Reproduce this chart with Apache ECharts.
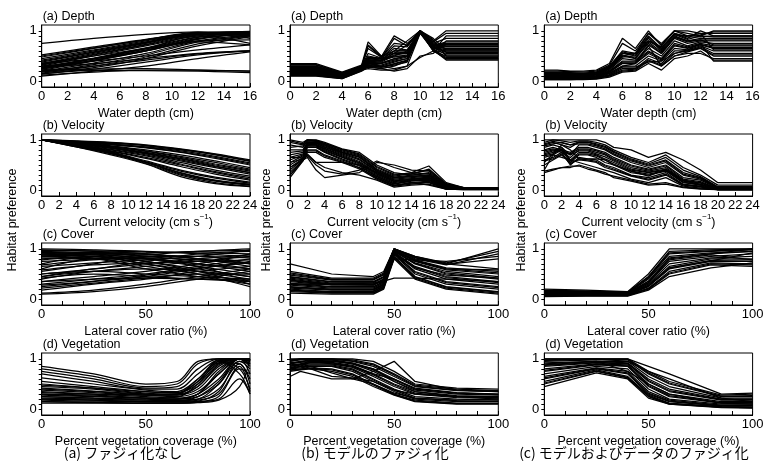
<!DOCTYPE html>
<html>
<head>
<meta charset="utf-8">
<script src="https://cdn.jsdelivr.net/npm/echarts@6/dist/echarts.min.js"></script>
<style>
  html, body { margin: 0; padding: 0; background: #fff; }
  #main { width: 776px; height: 470px; }
</style>
</head>
<body>
<div id="main"></div>
<script>
// ---- labels ----
var rowTitles = ['(a) Depth', '(b) Velocity', '(c) Cover', '(d) Vegetation'];
var axisNames = ['Water depth (cm)', 'Current velocity (cm s{sup|\u22121})', 'Lateral cover ratio (%)', 'Percent vegetation coverage (%)'];
var captions = ['(a) ファジィ化なし', '(b) モデルのファジィ化', '(c) モデルおよびデータのファジィ化'];
var yName = 'Habitat preference';

// ---- tick labels / tick marks ----
var depthTicks = [0, 2, 4, 6, 8, 10, 12, 14, 16];
var depthMarks = [0, 1, 2, 3, 4, 5, 6, 7, 8, 9, 10, 11, 12, 13, 14, 15, 16];
var velocityTicks = [0, 2, 4, 6, 8, 10, 12, 14, 16, 18, 20, 22, 24];
var percentTicks = [0, 50, 100];
var percentMarks = [0, 10, 20, 30, 40, 50, 60, 70, 80, 90, 100];
var prefTicks = [0, 1];
var prefMarks = [0, 0.1, 0.2, 0.3, 0.4, 0.5, 0.6, 0.7, 0.8, 0.9, 1];

// ---- (a) no fuzzification ----
var depthNoneX = [0, 4, 8, 12, 16];
var depthNone = [
  [0.75, 0.85, 0.93, 0.98, 0.95], [0.52, 0.68, 0.83, 0.96, 0.98], [0.48, 0.65, 0.82, 0.97, 0.93],
  [0.42, 0.6, 0.78, 0.95, 0.97], [0.38, 0.57, 0.76, 0.93, 0.96], [0.35, 0.55, 0.75, 0.94, 0.9],
  [0.32, 0.52, 0.72, 0.92, 0.96], [0.3, 0.5, 0.7, 0.9, 0.95], [0.28, 0.46, 0.66, 0.88, 0.97],
  [0.27, 0.45, 0.65, 0.9, 0.75], [0.25, 0.42, 0.62, 0.85, 0.93], [0.22, 0.4, 0.6, 0.84, 0.95],
  [0.2, 0.36, 0.55, 0.8, 0.92], [0.18, 0.33, 0.52, 0.78, 0.9], [0.3, 0.4, 0.5, 0.62, 0.72],
  [0.28, 0.35, 0.45, 0.55, 0.6], [0.2, 0.3, 0.42, 0.54, 0.6], [0.15, 0.24, 0.38, 0.52, 0.6],
  [0.1, 0.2, 0.3, 0.45, 0.58], [0.22, 0.24, 0.25, 0.22, 0.2], [0.2, 0.21, 0.21, 0.2, 0.17],
  [0.12, 0.18, 0.22, 0.22, 0.2], [0.35, 0.45, 0.6, 0.78, 0.72], [0.45, 0.62, 0.8, 0.95, 0.98],
  [0.4, 0.58, 0.77, 0.94, 0.99], [0.33, 0.53, 0.73, 0.93, 0.94], [0.26, 0.44, 0.64, 0.87, 0.96],
  [0.24, 0.41, 0.6, 0.83, 0.98], [0.16, 0.3, 0.48, 0.74, 0.9], [0.14, 0.27, 0.45, 0.7, 0.88],
  [0.5, 0.66, 0.82, 0.95, 0.85], [0.36, 0.5, 0.65, 0.8, 0.82]
];
var velNoneX = [0, 4, 8, 12, 16, 20, 24];
var velNone = [
  [1, 0.98, 0.95, 0.9, 0.82, 0.72, 0.6], [1, 0.97, 0.93, 0.88, 0.8, 0.7, 0.57],
  [1, 0.96, 0.92, 0.86, 0.78, 0.67, 0.54], [1, 0.95, 0.9, 0.84, 0.75, 0.63, 0.5],
  [1, 0.95, 0.88, 0.8, 0.7, 0.58, 0.45], [1, 0.94, 0.87, 0.78, 0.67, 0.55, 0.42],
  [1, 0.93, 0.85, 0.75, 0.63, 0.5, 0.38], [1, 0.92, 0.83, 0.72, 0.58, 0.45, 0.32],
  [1, 0.91, 0.81, 0.7, 0.55, 0.4, 0.28], [1, 0.9, 0.8, 0.68, 0.52, 0.37, 0.25],
  [1, 0.89, 0.78, 0.65, 0.5, 0.35, 0.22], [1, 0.9, 0.77, 0.63, 0.47, 0.32, 0.2],
  [1, 0.88, 0.75, 0.55, 0.35, 0.2, 0.12], [1, 0.87, 0.73, 0.55, 0.32, 0.18, 0.1],
  [1, 0.86, 0.72, 0.53, 0.3, 0.15, 0.08], [1, 0.86, 0.7, 0.52, 0.27, 0.13, 0.07],
  [1, 0.88, 0.74, 0.56, 0.38, 0.24, 0.14], [1, 0.93, 0.84, 0.74, 0.62, 0.48, 0.35],
  [1, 0.97, 0.94, 0.89, 0.81, 0.71, 0.58], [1, 0.96, 0.91, 0.85, 0.76, 0.65, 0.52],
  [1, 0.94, 0.86, 0.77, 0.65, 0.52, 0.4], [1, 0.92, 0.84, 0.73, 0.6, 0.47, 0.35],
  [1, 0.87, 0.74, 0.56, 0.34, 0.19, 0.11], [1, 0.89, 0.76, 0.58, 0.4, 0.26, 0.16]
];
var coverNoneX = [0, 25, 50, 75, 100];
var coverNone = [
  [1.0, 0.98, 0.95, 0.9, 0.85], [0.98, 0.95, 0.9, 0.8, 0.7], [0.95, 0.92, 0.85, 0.75, 0.6],
  [0.93, 0.9, 0.8, 0.65, 0.5], [0.9, 0.88, 0.75, 0.6, 0.45], [0.88, 0.85, 0.7, 0.55, 0.4],
  [0.85, 0.82, 0.65, 0.5, 0.35], [0.82, 0.8, 0.6, 0.45, 0.3], [0.8, 0.85, 0.7, 0.5, 0.25],
  [0.7, 0.85, 0.75, 0.55, 0.3], [0.6, 0.8, 0.8, 0.65, 0.35], [0.55, 0.7, 0.85, 0.85, 0.7],
  [0.5, 0.6, 0.75, 0.9, 0.95], [0.45, 0.55, 0.6, 0.55, 0.45], [0.42, 0.5, 0.45, 0.4, 0.35],
  [0.4, 0.55, 0.65, 0.75, 0.85], [0.35, 0.45, 0.55, 0.7, 0.9], [0.3, 0.4, 0.5, 0.65, 0.8],
  [0.25, 0.35, 0.45, 0.6, 0.75], [0.18, 0.3, 0.4, 0.55, 0.65], [0.12, 0.18, 0.3, 0.45, 0.6],
  [0.1, 0.15, 0.25, 0.4, 0.55], [0.65, 0.72, 0.78, 0.85, 0.98], [0.75, 0.8, 0.88, 0.95, 1.0],
  [0.88, 0.9, 0.92, 0.95, 0.97], [0.45, 0.6, 0.7, 0.8, 0.88],
  [0.97, 0.96, 0.94, 0.92, 0.9], [0.92, 0.9, 0.88, 0.85, 0.82], [0.9, 0.93, 0.9, 0.8, 0.65],
  [0.86, 0.88, 0.82, 0.7, 0.55], [0.78, 0.84, 0.8, 0.7, 0.6], [0.68, 0.78, 0.82, 0.78, 0.72],
  [0.58, 0.68, 0.72, 0.75, 0.78], [0.5, 0.55, 0.5, 0.45, 0.4], [0.35, 0.4, 0.42, 0.4, 0.38],
  [0.28, 0.36, 0.48, 0.62, 0.72], [0.22, 0.32, 0.42, 0.5, 0.5]
];
var vegNoneX = [0, 25, 50, 65, 75, 85, 95, 100];
var vegNone = [
  [0.85, 0.7, 0.5, 0.55, 0.95, 1.0, 1.0, 0.95], [0.8, 0.65, 0.45, 0.5, 0.9, 1.0, 1.0, 1.0],
  [0.75, 0.6, 0.42, 0.45, 0.8, 1.0, 1.0, 0.9], [0.7, 0.55, 0.4, 0.4, 0.7, 0.98, 1.0, 1.0],
  [0.62, 0.5, 0.38, 0.35, 0.6, 0.95, 1.0, 1.0], [0.55, 0.45, 0.35, 0.32, 0.5, 0.9, 1.0, 1.0],
  [0.5, 0.42, 0.32, 0.3, 0.45, 0.85, 1.0, 0.95], [0.45, 0.4, 0.3, 0.28, 0.4, 0.8, 1.0, 0.9],
  [0.4, 0.35, 0.28, 0.25, 0.35, 0.7, 1.0, 1.0], [0.35, 0.3, 0.25, 0.22, 0.3, 0.6, 1.0, 1.0],
  [0.3, 0.28, 0.22, 0.2, 0.25, 0.5, 0.95, 0.8], [0.25, 0.22, 0.2, 0.18, 0.2, 0.4, 0.9, 0.6],
  [0.2, 0.18, 0.15, 0.15, 0.18, 0.3, 0.85, 0.35], [0.15, 0.14, 0.12, 0.12, 0.15, 0.2, 0.6, 0.3],
  [0.12, 0.12, 0.12, 0.12, 0.13, 0.18, 0.45, 1.0], [0.33, 0.3, 0.28, 0.3, 0.6, 0.95, 0.7, 0.3],
  [0.28, 0.25, 0.22, 0.24, 0.5, 0.92, 0.9, 0.5], [0.22, 0.2, 0.18, 0.2, 0.3, 0.7, 1.0, 0.7],
  [0.18, 0.16, 0.15, 0.16, 0.25, 0.55, 1.0, 0.85], [0.38, 0.33, 0.28, 0.3, 0.55, 0.97, 0.8, 0.4],
  [0.48, 0.42, 0.35, 0.33, 0.55, 0.92, 1.0, 0.98], [0.42, 0.36, 0.3, 0.28, 0.45, 0.88, 1.0, 1.0],
  [0.3, 0.26, 0.22, 0.2, 0.3, 0.75, 1.0, 0.95], [0.25, 0.22, 0.18, 0.17, 0.2, 0.5, 1.0, 1.0],
  [0.2, 0.18, 0.15, 0.14, 0.16, 0.35, 0.95, 0.9], [0.15, 0.13, 0.12, 0.12, 0.14, 0.25, 0.8, 0.7]
];

// ---- (b) model fuzzification ----
var depthModelX = [0, 2, 4, 5.5, 6, 7, 8, 9, 10, 11, 12, 16];
var depthModel = [
  [0.35, 0.35, 0.18, 0.32, 0.78, 0.5, 0.6, 0.8, 1.0, 0.8, 1.0, 1.0],
  [0.3, 0.3, 0.15, 0.3, 0.7, 0.48, 0.9, 0.75, 0.98, 0.78, 0.95, 0.95],
  [0.28, 0.28, 0.14, 0.3, 0.5, 0.45, 0.85, 0.7, 1.0, 0.75, 0.85, 0.85],
  [0.25, 0.25, 0.12, 0.28, 0.45, 0.42, 0.6, 0.6, 1.0, 0.7, 0.78, 0.78],
  [0.22, 0.22, 0.1, 0.27, 0.42, 0.4, 0.55, 0.55, 0.98, 0.72, 0.7, 0.7],
  [0.2, 0.2, 0.1, 0.26, 0.4, 0.38, 0.5, 0.5, 1.0, 0.68, 0.65, 0.65],
  [0.18, 0.18, 0.08, 0.25, 0.38, 0.36, 0.45, 0.5, 0.97, 0.65, 0.6, 0.6],
  [0.15, 0.15, 0.07, 0.24, 0.35, 0.32, 0.4, 0.45, 0.99, 0.62, 0.55, 0.55],
  [0.12, 0.12, 0.06, 0.22, 0.32, 0.28, 0.35, 0.42, 1.0, 0.6, 0.5, 0.5],
  [0.1, 0.1, 0.05, 0.2, 0.28, 0.25, 0.3, 0.4, 0.97, 0.6, 0.45, 0.45],
  [0.14, 0.14, 0.08, 0.22, 0.25, 0.22, 0.22, 0.3, 0.95, 0.62, 0.42, 0.42],
  [0.2, 0.2, 0.1, 0.24, 0.3, 0.25, 0.2, 0.25, 0.5, 0.55, 0.8, 0.8],
  [0.25, 0.25, 0.12, 0.26, 0.35, 0.3, 0.25, 0.3, 0.47, 0.6, 0.9, 0.9],
  [0.32, 0.32, 0.16, 0.28, 0.72, 0.5, 0.55, 0.72, 1.0, 0.85, 0.62, 0.62],
  [0.17, 0.17, 0.09, 0.25, 0.45, 0.45, 0.5, 0.6, 1.0, 0.7, 0.72, 0.72],
  [0.13, 0.13, 0.07, 0.23, 0.33, 0.3, 0.38, 0.45, 0.98, 0.66, 0.58, 0.58],
  [0.24, 0.24, 0.11, 0.27, 0.4, 0.42, 0.48, 0.52, 1.0, 0.7, 0.68, 0.68],
  [0.11, 0.11, 0.05, 0.21, 0.3, 0.28, 0.32, 0.38, 0.96, 0.64, 0.47, 0.47],
  [0.19, 0.19, 0.09, 0.25, 0.36, 0.35, 0.42, 0.48, 1.0, 0.68, 0.52, 0.52],
  [0.27, 0.27, 0.13, 0.28, 0.48, 0.46, 0.65, 0.62, 0.99, 0.72, 0.75, 0.75],
  [0.16, 0.16, 0.08, 0.24, 0.37, 0.36, 0.44, 0.5, 0.99, 0.67, 0.62, 0.62],
  [0.21, 0.21, 0.1, 0.26, 0.41, 0.4, 0.52, 0.55, 1.0, 0.7, 0.57, 0.57],
  [0.23, 0.23, 0.11, 0.27, 0.43, 0.41, 0.56, 0.57, 0.99, 0.71, 0.73, 0.73],
  [0.26, 0.26, 0.12, 0.28, 0.46, 0.44, 0.6, 0.6, 1.0, 0.72, 0.64, 0.64],
  [0.12, 0.12, 0.06, 0.22, 0.31, 0.28, 0.34, 0.41, 0.98, 0.62, 0.44, 0.44],
  [0.29, 0.29, 0.14, 0.29, 0.55, 0.46, 0.7, 0.68, 1.0, 0.76, 0.69, 0.69],
  [0.33, 0.33, 0.17, 0.3, 0.65, 0.48, 0.75, 0.72, 1.0, 0.82, 0.5, 0.5]
];
var velModelX = [0, 1.5, 2, 3, 4, 6, 8, 10, 12, 14, 16, 18, 20, 24];
var velModel = [
  [1.0, 0.95, 1.0, 1.0, 0.95, 0.82, 0.75, 0.5, 0.35, 0.3, 0.35, 0.12, 0.05, 0.05],
  [0.95, 0.9, 1.0, 0.98, 0.92, 0.8, 0.7, 0.45, 0.3, 0.35, 0.48, 0.15, 0.05, 0.05],
  [0.9, 0.85, 0.98, 0.97, 0.9, 0.78, 0.68, 0.42, 0.28, 0.33, 0.4, 0.12, 0.04, 0.04],
  [0.8, 0.8, 0.95, 0.95, 0.88, 0.75, 0.65, 0.4, 0.25, 0.28, 0.3, 0.1, 0.04, 0.04],
  [0.7, 0.75, 0.92, 0.93, 0.85, 0.72, 0.6, 0.37, 0.22, 0.25, 0.28, 0.08, 0.03, 0.03],
  [0.6, 0.7, 0.9, 0.9, 0.82, 0.68, 0.55, 0.33, 0.18, 0.22, 0.25, 0.06, 0.03, 0.03],
  [0.5, 0.65, 0.88, 0.88, 0.78, 0.65, 0.52, 0.3, 0.15, 0.2, 0.22, 0.05, 0.02, 0.02],
  [0.4, 0.62, 0.85, 0.85, 0.75, 0.6, 0.48, 0.27, 0.12, 0.18, 0.2, 0.04, 0.02, 0.02],
  [0.3, 0.6, 0.8, 0.8, 0.7, 0.58, 0.45, 0.25, 0.1, 0.15, 0.18, 0.03, 0.02, 0.02],
  [0.25, 0.58, 0.75, 0.75, 0.65, 0.55, 0.42, 0.22, 0.08, 0.12, 0.15, 0.02, 0.02, 0.02],
  [0.35, 0.6, 0.7, 0.55, 0.45, 0.35, 0.3, 0.2, 0.06, 0.1, 0.12, 0.02, 0.01, 0.01],
  [0.45, 0.6, 0.65, 0.4, 0.25, 0.3, 0.35, 0.55, 0.5, 0.4, 0.38, 0.1, 0.02, 0.02],
  [0.55, 0.62, 0.68, 0.5, 0.38, 0.32, 0.4, 0.58, 0.45, 0.35, 0.32, 0.08, 0.02, 0.02],
  [0.65, 0.64, 0.72, 0.55, 0.55, 0.55, 0.5, 0.35, 0.2, 0.15, 0.1, 0.02, 0.01, 0.01],
  [0.85, 0.88, 0.96, 0.96, 0.9, 0.76, 0.66, 0.4, 0.26, 0.3, 0.33, 0.11, 0.04, 0.04],
  [0.75, 0.78, 0.93, 0.94, 0.86, 0.74, 0.62, 0.38, 0.24, 0.27, 0.29, 0.09, 0.03, 0.03],
  [0.55, 0.68, 0.89, 0.9, 0.8, 0.66, 0.54, 0.32, 0.17, 0.21, 0.24, 0.06, 0.03, 0.03],
  [0.98, 0.92, 1.0, 0.99, 0.93, 0.81, 0.72, 0.47, 0.32, 0.32, 0.42, 0.13, 0.05, 0.05],
  [0.65, 0.72, 0.91, 0.91, 0.83, 0.7, 0.57, 0.35, 0.2, 0.23, 0.26, 0.07, 0.03, 0.03],
  [0.45, 0.63, 0.86, 0.86, 0.76, 0.62, 0.5, 0.28, 0.13, 0.19, 0.21, 0.04, 0.02, 0.02],
  [0.3, 0.59, 0.78, 0.78, 0.68, 0.56, 0.44, 0.24, 0.09, 0.14, 0.16, 0.03, 0.02, 0.02]
];
var coverModelX = [0, 20, 40, 45, 50, 60, 75, 100];
var coverModel = [
  [0.7, 0.5, 0.45, 0.55, 1.0, 0.85, 0.7, 0.6], [0.55, 0.42, 0.42, 0.52, 1.0, 0.85, 0.72, 0.95],
  [0.52, 0.4, 0.4, 0.5, 1.0, 0.82, 0.7, 1.0], [0.48, 0.38, 0.38, 0.48, 1.0, 0.8, 0.68, 0.9],
  [0.45, 0.35, 0.35, 0.45, 0.98, 0.78, 0.62, 0.55], [0.42, 0.32, 0.33, 0.43, 0.97, 0.75, 0.58, 0.5],
  [0.4, 0.3, 0.3, 0.4, 0.95, 0.72, 0.55, 0.45], [0.35, 0.28, 0.28, 0.38, 0.95, 0.7, 0.5, 0.4],
  [0.32, 0.25, 0.25, 0.35, 0.93, 0.65, 0.45, 0.35], [0.28, 0.22, 0.22, 0.32, 0.92, 0.6, 0.4, 0.3],
  [0.25, 0.2, 0.2, 0.3, 0.9, 0.55, 0.35, 0.25], [0.22, 0.18, 0.18, 0.28, 0.88, 0.5, 0.3, 0.2],
  [0.2, 0.15, 0.15, 0.25, 0.85, 0.45, 0.25, 0.15], [0.15, 0.12, 0.12, 0.22, 0.82, 0.42, 0.22, 0.12],
  [0.12, 0.1, 0.1, 0.2, 0.8, 0.4, 0.2, 0.1], [0.3, 0.3, 0.3, 0.35, 0.8, 0.78, 0.75, 0.85],
  [0.3, 0.3, 0.32, 0.36, 0.42, 0.42, 0.4, 0.35], [0.38, 0.3, 0.28, 0.4, 0.96, 0.76, 0.6, 0.58],
  [0.18, 0.14, 0.16, 0.26, 0.9, 0.62, 0.48, 0.42],
  [0.44, 0.34, 0.34, 0.44, 0.98, 0.77, 0.6, 0.52], [0.37, 0.29, 0.29, 0.39, 0.95, 0.71, 0.52, 0.42],
  [0.3, 0.24, 0.24, 0.34, 0.93, 0.63, 0.43, 0.33], [0.24, 0.19, 0.19, 0.29, 0.9, 0.53, 0.33, 0.23],
  [0.17, 0.13, 0.13, 0.23, 0.84, 0.44, 0.24, 0.14], [0.5, 0.39, 0.39, 0.49, 1.0, 0.83, 0.69, 0.8]
];
var vegModelX = [0, 5, 10, 20, 30, 40, 50, 60, 80, 100];
var vegModel = [
  [1.0, 1.0, 1.0, 1.0, 1.0, 0.95, 0.75, 0.5, 0.42, 0.4],
  [0.98, 1.0, 1.0, 1.0, 0.98, 0.9, 0.7, 0.48, 0.4, 0.37],
  [0.95, 0.98, 1.0, 1.0, 0.95, 0.85, 0.65, 0.45, 0.37, 0.35],
  [0.92, 0.95, 0.98, 0.98, 0.92, 0.8, 0.6, 0.42, 0.33, 0.3],
  [0.9, 0.93, 0.95, 0.95, 0.9, 0.75, 0.55, 0.38, 0.3, 0.28],
  [0.88, 0.9, 0.93, 0.93, 0.87, 0.7, 0.5, 0.35, 0.27, 0.25],
  [0.85, 0.88, 0.9, 0.9, 0.83, 0.65, 0.45, 0.3, 0.23, 0.22],
  [0.82, 0.85, 0.88, 0.88, 0.8, 0.6, 0.4, 0.25, 0.2, 0.18],
  [0.8, 0.82, 0.85, 0.85, 0.75, 0.55, 0.35, 0.2, 0.15, 0.15],
  [0.78, 0.8, 0.82, 0.8, 0.7, 0.5, 0.3, 0.18, 0.12, 0.12],
  [0.75, 0.78, 0.8, 0.75, 0.65, 0.45, 0.28, 0.15, 0.1, 0.1],
  [0.65, 0.75, 0.7, 0.6, 0.6, 0.75, 0.95, 0.55, 0.38, 0.35],
  [0.82, 0.88, 0.8, 0.65, 0.62, 0.55, 0.38, 0.3, 0.25, 0.25],
  [0.8, 0.85, 0.85, 0.72, 0.6, 0.5, 0.32, 0.22, 0.18, 0.2],
  [0.85, 0.9, 0.95, 0.9, 0.85, 0.7, 0.6, 0.4, 0.32, 0.3],
  [0.95, 1.0, 1.0, 0.98, 0.9, 0.8, 0.55, 0.35, 0.25, 0.2],
  [0.97, 0.99, 1.0, 0.99, 0.96, 0.88, 0.68, 0.46, 0.38, 0.36],
  [0.91, 0.94, 0.97, 0.96, 0.91, 0.78, 0.58, 0.4, 0.32, 0.29],
  [0.87, 0.89, 0.92, 0.92, 0.85, 0.68, 0.48, 0.32, 0.25, 0.23],
  [0.81, 0.84, 0.86, 0.86, 0.78, 0.58, 0.38, 0.22, 0.17, 0.16],
  [0.77, 0.79, 0.81, 0.78, 0.68, 0.48, 0.29, 0.16, 0.11, 0.11]
];

// ---- (c) model + data fuzzification ----
var depthDataX = [0, 1, 2, 3, 4, 5, 6, 7, 8, 9, 10, 11, 12, 13, 16];
var depthData = [
  [0.22, 0.22, 0.2, 0.2, 0.22, 0.35, 0.85, 0.65, 1.0, 0.7, 1.0, 0.95, 0.9, 1.0, 1.0],
  [0.2, 0.2, 0.19, 0.18, 0.2, 0.32, 0.75, 0.6, 0.95, 0.75, 1.0, 1.0, 0.95, 0.95, 0.95],
  [0.18, 0.18, 0.17, 0.16, 0.18, 0.3, 0.6, 0.55, 0.9, 0.65, 0.95, 0.85, 1.0, 0.9, 0.9],
  [0.15, 0.15, 0.14, 0.14, 0.16, 0.28, 0.55, 0.5, 0.85, 0.6, 0.9, 0.8, 0.85, 0.85, 0.85],
  [0.12, 0.12, 0.12, 0.12, 0.14, 0.25, 0.5, 0.45, 0.75, 0.55, 0.85, 0.75, 0.8, 0.8, 0.8],
  [0.1, 0.1, 0.1, 0.1, 0.12, 0.22, 0.45, 0.42, 0.65, 0.5, 0.8, 0.7, 0.78, 0.75, 0.75],
  [0.08, 0.08, 0.08, 0.08, 0.1, 0.2, 0.4, 0.4, 0.6, 0.45, 0.75, 0.68, 0.75, 0.7, 0.7],
  [0.06, 0.06, 0.06, 0.07, 0.08, 0.18, 0.35, 0.35, 0.55, 0.42, 0.7, 0.65, 0.72, 0.65, 0.65],
  [0.05, 0.05, 0.05, 0.06, 0.07, 0.15, 0.3, 0.3, 0.5, 0.4, 0.65, 0.62, 0.7, 0.6, 0.6],
  [0.04, 0.04, 0.04, 0.05, 0.06, 0.12, 0.25, 0.25, 0.45, 0.35, 0.6, 0.6, 0.68, 0.55, 0.55],
  [0.03, 0.03, 0.03, 0.04, 0.05, 0.1, 0.2, 0.22, 0.4, 0.3, 0.5, 0.58, 0.65, 0.5, 0.5],
  [0.03, 0.03, 0.03, 0.03, 0.04, 0.08, 0.18, 0.2, 0.35, 0.22, 0.45, 0.5, 0.6, 0.42, 0.42],
  [0.07, 0.07, 0.07, 0.07, 0.09, 0.16, 0.3, 0.35, 0.7, 0.3, 0.5, 0.55, 0.55, 0.45, 0.45],
  [0.14, 0.14, 0.13, 0.13, 0.15, 0.26, 0.55, 0.55, 0.95, 0.72, 1.0, 0.9, 0.92, 0.98, 0.98],
  [0.11, 0.11, 0.11, 0.11, 0.13, 0.24, 0.48, 0.5, 0.8, 0.65, 0.95, 0.88, 0.88, 0.9, 0.9],
  [0.09, 0.09, 0.09, 0.09, 0.11, 0.2, 0.38, 0.38, 0.72, 0.55, 0.88, 0.8, 0.82, 0.72, 0.72],
  [0.05, 0.05, 0.05, 0.05, 0.06, 0.13, 0.28, 0.28, 0.38, 0.4, 0.55, 0.62, 0.75, 0.4, 0.4],
  [0.16, 0.16, 0.15, 0.15, 0.17, 0.27, 0.5, 0.55, 0.8, 0.68, 0.92, 0.9, 0.95, 0.62, 0.62],
  [0.17, 0.17, 0.16, 0.15, 0.17, 0.29, 0.58, 0.52, 0.88, 0.62, 0.93, 0.83, 0.9, 0.88, 0.88],
  [0.13, 0.13, 0.12, 0.12, 0.14, 0.25, 0.52, 0.46, 0.78, 0.58, 0.87, 0.78, 0.82, 0.82, 0.82],
  [0.07, 0.07, 0.07, 0.07, 0.09, 0.18, 0.36, 0.36, 0.58, 0.44, 0.72, 0.66, 0.73, 0.67, 0.67],
  [0.04, 0.04, 0.04, 0.05, 0.06, 0.11, 0.22, 0.24, 0.42, 0.32, 0.55, 0.6, 0.66, 0.52, 0.52]
];
var velDataX = [0, 1, 2, 3, 4, 5, 6, 7, 8, 10, 12, 14, 16, 18, 20, 24];
var velData = [
  [1.0, 1.0, 1.0, 1.0, 1.0, 1.0, 1.0, 0.95, 0.85, 0.8, 0.65, 0.75, 0.6, 0.4, 0.15, 0.15],
  [0.95, 1.0, 0.98, 0.95, 0.98, 0.98, 0.95, 0.9, 0.8, 0.65, 0.55, 0.7, 0.45, 0.3, 0.1, 0.1],
  [0.9, 0.95, 0.9, 0.85, 0.95, 0.95, 0.9, 0.85, 0.75, 0.6, 0.5, 0.6, 0.35, 0.25, 0.06, 0.06],
  [0.85, 0.9, 0.85, 0.7, 0.9, 0.9, 0.85, 0.8, 0.7, 0.55, 0.45, 0.55, 0.3, 0.22, 0.05, 0.05],
  [0.8, 0.85, 0.8, 0.75, 0.85, 0.85, 0.8, 0.75, 0.65, 0.5, 0.42, 0.5, 0.25, 0.2, 0.04, 0.04],
  [0.75, 0.8, 0.75, 0.65, 0.8, 0.8, 0.75, 0.7, 0.6, 0.45, 0.38, 0.45, 0.2, 0.15, 0.03, 0.03],
  [0.7, 0.75, 0.85, 0.6, 0.75, 0.75, 0.7, 0.62, 0.55, 0.4, 0.35, 0.4, 0.18, 0.12, 0.02, 0.02],
  [0.65, 0.7, 0.8, 0.55, 0.7, 0.7, 0.65, 0.55, 0.5, 0.35, 0.3, 0.38, 0.15, 0.1, 0.02, 0.02],
  [0.6, 0.65, 0.75, 0.5, 0.65, 0.62, 0.6, 0.5, 0.45, 0.3, 0.25, 0.35, 0.12, 0.08, 0.01, 0.01],
  [0.5, 0.6, 0.7, 0.55, 0.6, 0.58, 0.55, 0.45, 0.4, 0.28, 0.2, 0.3, 0.1, 0.06, 0.01, 0.01],
  [0.4, 0.7, 0.65, 0.6, 0.55, 0.5, 0.45, 0.4, 0.35, 0.22, 0.15, 0.25, 0.08, 0.04, 0.01, 0.01],
  [0.35, 0.4, 0.45, 0.45, 0.5, 0.45, 0.4, 0.35, 0.25, 0.18, 0.1, 0.12, 0.05, 0.02, 0.01, 0.01],
  [0.38, 0.42, 0.45, 0.48, 0.48, 0.42, 0.38, 0.32, 0.28, 0.2, 0.12, 0.15, 0.06, 0.03, 0.01, 0.01],
  [0.55, 0.72, 0.9, 0.8, 0.62, 0.62, 0.62, 0.6, 0.5, 0.38, 0.28, 0.42, 0.2, 0.1, 0.02, 0.02],
  [0.88, 0.92, 0.95, 0.9, 0.92, 0.92, 0.88, 0.82, 0.72, 0.58, 0.48, 0.58, 0.32, 0.24, 0.05, 0.05],
  [0.72, 0.78, 0.78, 0.7, 0.78, 0.78, 0.72, 0.66, 0.58, 0.42, 0.36, 0.42, 0.19, 0.14, 0.03, 0.03],
  [0.92, 0.97, 0.94, 0.9, 0.96, 0.96, 0.92, 0.87, 0.77, 0.62, 0.52, 0.65, 0.4, 0.27, 0.07, 0.07],
  [0.78, 0.82, 0.78, 0.72, 0.82, 0.82, 0.78, 0.72, 0.62, 0.48, 0.4, 0.48, 0.22, 0.17, 0.03, 0.03],
  [0.68, 0.72, 0.82, 0.58, 0.72, 0.72, 0.68, 0.6, 0.52, 0.38, 0.32, 0.39, 0.16, 0.11, 0.02, 0.02],
  [0.58, 0.62, 0.72, 0.52, 0.62, 0.6, 0.57, 0.48, 0.42, 0.29, 0.22, 0.32, 0.11, 0.07, 0.01, 0.01]
];
var coverDataX = [0, 20, 40, 50, 60, 80, 100];
var coverData = [
  [0.2, 0.18, 0.15, 0.5, 1.0, 1.0, 1.0], [0.18, 0.16, 0.14, 0.45, 0.95, 0.98, 1.0],
  [0.16, 0.15, 0.13, 0.42, 0.9, 0.95, 0.98], [0.15, 0.14, 0.12, 0.4, 0.85, 0.92, 0.95],
  [0.14, 0.13, 0.12, 0.35, 0.8, 0.9, 1.0], [0.12, 0.12, 0.11, 0.32, 0.75, 0.85, 0.9],
  [0.11, 0.11, 0.1, 0.3, 0.7, 0.82, 0.85], [0.1, 0.1, 0.1, 0.28, 0.65, 0.8, 0.8],
  [0.09, 0.09, 0.09, 0.25, 0.6, 0.75, 0.75], [0.08, 0.08, 0.08, 0.22, 0.55, 0.72, 0.7],
  [0.06, 0.07, 0.07, 0.2, 0.5, 0.68, 0.65], [0.05, 0.06, 0.06, 0.18, 0.45, 0.62, 0.72],
  [0.13, 0.12, 0.11, 0.33, 0.78, 0.88, 0.78], [0.1, 0.1, 0.1, 0.26, 0.62, 0.76, 0.92],
  [0.17, 0.16, 0.14, 0.44, 0.92, 0.96, 0.99], [0.13, 0.12, 0.11, 0.36, 0.82, 0.9, 0.95],
  [0.09, 0.09, 0.09, 0.26, 0.62, 0.77, 0.78], [0.07, 0.07, 0.07, 0.21, 0.52, 0.7, 0.68]
];
var vegDataX = [0, 25, 40, 50, 60, 85, 100];
var vegData = [
  [1.0, 1.0, 1.0, 0.85, 0.7, 0.3, 0.32], [0.98, 1.0, 1.0, 0.75, 0.55, 0.28, 0.3],
  [0.95, 0.98, 0.98, 0.7, 0.5, 0.25, 0.25], [0.92, 0.95, 0.95, 0.65, 0.45, 0.22, 0.22],
  [0.9, 0.95, 0.92, 0.6, 0.4, 0.2, 0.2], [0.85, 0.92, 0.9, 0.55, 0.35, 0.18, 0.18],
  [0.8, 0.9, 0.88, 0.5, 0.3, 0.15, 0.15], [0.75, 0.88, 0.85, 0.45, 0.25, 0.12, 0.12],
  [0.7, 0.85, 0.8, 0.4, 0.2, 0.1, 0.1], [0.65, 0.82, 0.75, 0.35, 0.18, 0.08, 0.08],
  [0.6, 0.8, 0.7, 0.3, 0.15, 0.06, 0.06], [0.55, 0.78, 0.65, 0.28, 0.12, 0.05, 0.04],
  [0.5, 0.75, 0.62, 0.25, 0.1, 0.04, 0.03], [0.45, 0.72, 0.6, 0.22, 0.1, 0.03, 0.02],
  [1.0, 1.0, 0.95, 0.75, 0.6, 0.22, 0.15], [0.88, 0.95, 0.75, 0.5, 0.3, 0.12, 0.1],
  [0.97, 0.99, 0.99, 0.72, 0.52, 0.26, 0.27], [0.87, 0.93, 0.91, 0.57, 0.37, 0.19, 0.19],
  [0.77, 0.89, 0.86, 0.47, 0.27, 0.13, 0.13], [0.62, 0.81, 0.72, 0.32, 0.16, 0.07, 0.07],
  [0.52, 0.76, 0.63, 0.26, 0.11, 0.04, 0.03]
];

// rows: depth, velocity, cover, vegetation ; columns: none, model, model+data
var panelX = [
  [depthNoneX, depthModelX, depthDataX],
  [velNoneX, velModelX, velDataX],
  [coverNoneX, coverModelX, coverDataX],
  [vegNoneX, vegModelX, vegDataX]
];
var panelLines = [
  [depthNone, depthModel, depthData],
  [velNone, velModel, velData],
  [coverNone, coverModel, coverData],
  [vegNone, vegModel, vegData]
];
var rowMax = [16, 24, 100, 100];
var rowTicks = [depthTicks, velocityTicks, percentTicks, percentTicks];
var rowMarks = [depthMarks, velocityTicks, percentMarks, percentMarks];

// ---- layout ----
var colLeft = [41.7, 290, 544.3];
var colWidth = 208.3;
var rowTop = [25, 134, 243, 353];
var rowHeight = 62;
var FONT = '"Liberation Sans", Arial, sans-serif';

var grids = [], xAxes = [], yAxes = [], series = [], graphics = [];
var idx = 0;
for (var r = 0; r < 4; r++) {
  for (var c = 0; c < 3; c++) {
    grids.push({
      left: colLeft[c], top: rowTop[r], width: colWidth, height: rowHeight,
      show: true, borderColor: '#000', borderWidth: 1, backgroundColor: 'transparent'
    });
    xAxes.push({
      gridIndex: idx, type: 'value', min: 0, max: rowMax[r],
      axisLine: { show: true, onZero: false, lineStyle: { color: '#000', width: 1 } },
      axisTick: { show: true, inside: true, length: 4, customValues: rowMarks[r], lineStyle: { color: '#000' } },
      axisLabel: { color: '#000', fontSize: 13, fontFamily: FONT, margin: 3, customValues: rowTicks[r] },
      splitLine: { show: false },
      name: axisNames[r], nameLocation: 'middle', nameGap: 10,
      nameTextStyle: {
        color: '#000', fontSize: 12.5, fontFamily: FONT, verticalAlign: 'top', lineHeight: 20,
        rich: { sup: { fontSize: 8, fontFamily: FONT, color: '#000', verticalAlign: 'top', lineHeight: 10 } }
      }
    });
    yAxes.push({
      gridIndex: idx, type: 'value', min: -0.115, max: 1.115,
      axisLine: { show: true, onZero: false, lineStyle: { color: '#000', width: 1 } },
      axisTick: { show: true, inside: false, length: 3, customValues: prefMarks, lineStyle: { color: '#000' } },
      axisLabel: { color: '#000', fontSize: 13, fontFamily: FONT, margin: 5, customValues: prefTicks },
      splitLine: { show: false }
    });
    var xs = panelX[r][c];
    panelLines[r][c].forEach(function (line) {
      series.push({
        type: 'line', xAxisIndex: idx, yAxisIndex: idx,
        data: xs.map(function (x, k) { return [x, line[k]]; }),
        symbol: 'none', silent: true, animation: false,
        smooth: c === 0 ? 0.35 : false,
        lineStyle: { color: '#000', width: 1.25 }
      });
    });
    graphics.push({
      type: 'text', x: colLeft[c] + 1, y: rowTop[r] - 8.5,
      style: { text: rowTitles[r], font: '12.5px ' + FONT, fill: '#000', verticalAlign: 'middle' }
    });
    idx++;
  }
}

var yLabelX = [13, 267, 522];
var captionX = [123, 375, 634];
for (var c2 = 0; c2 < 3; c2++) {
  graphics.push({
    type: 'text', x: yLabelX[c2], y: 220, rotation: Math.PI / 2,
    style: { text: yName, font: '12.5px ' + FONT, fill: '#000', align: 'center', verticalAlign: 'middle' }
  });
  graphics.push({
    type: 'text', x: captionX[c2], y: 453,
    style: { text: captions[c2], font: '14px "Noto Sans CJK JP", sans-serif', fill: '#000', align: 'center', verticalAlign: 'middle' }
  });
}

var chart = echarts.init(document.getElementById('main'), null, { renderer: 'canvas' });
chart.setOption({
  animation: false,
  backgroundColor: '#fff',
  grid: grids,
  xAxis: xAxes,
  yAxis: yAxes,
  series: series,
  graphic: graphics
});
</script>
</body>
</html>
